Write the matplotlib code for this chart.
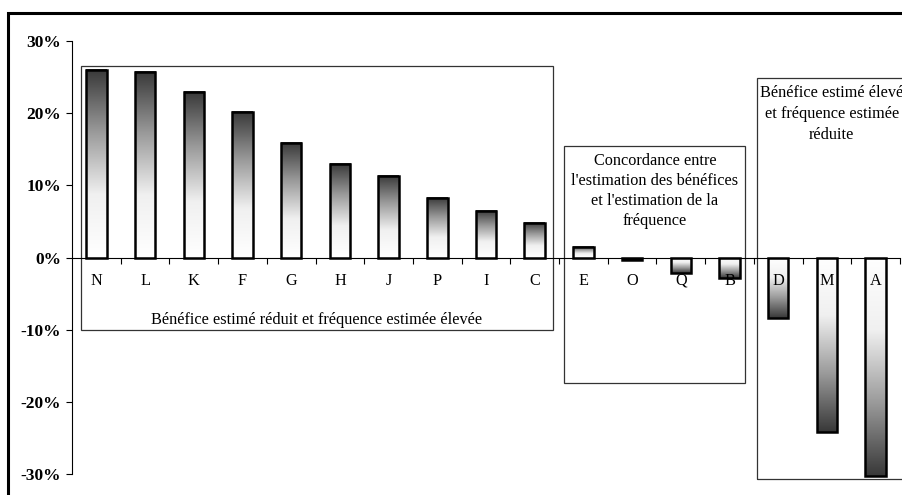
import numpy as np
import matplotlib
matplotlib.use('Agg')
from matplotlib import pyplot as plt
from matplotlib.colors import LinearSegmentedColormap
from matplotlib.patches import Rectangle
from matplotlib.ticker import FuncFormatter

plt.rcParams['font.family'] = ['Liberation Serif', 'DejaVu Serif']

categories = ['N', 'L', 'K', 'F', 'G', 'H', 'J', 'P', 'I', 'C', 'E', 'O', 'Q', 'B', 'D', 'M', 'A']
values = [26.0, 25.7, 23.0, 20.2, 15.8, 13.0, 11.3, 8.3, 6.5, 4.8, 1.5, -0.3, -2.2, -2.9, -8.4, -24.2, -30.3]
yticks = [-30, -20, -10, 0, 10, 20, 30]

box1_text = "Bénéfice estimé réduit et fréquence estimée élevée"
box2_text = "Concordance entre\nl'estimation des bénéfices\net l'estimation de la\nfréquence"
box3_text = "Bénéfice estimé élevé\net fréquence estimée\nréduite"

fig = plt.figure(figsize=(9.03, 4.95), dpi=100)
ax = fig.add_axes([72 / 903, 21 / 495, 828 / 903, 433 / 495])

cmap = LinearSegmentedColormap.from_list('grad', ['#ffffff', '#f0f0f0', '#9a9a9a', '#383838'])
grad = np.linspace(0, 1, 256).reshape(-1, 1)
w = 0.42
for i, v in enumerate(values):
    clip = v > -30
    ax.imshow(grad, extent=(i - w / 2, i + w / 2, 0, v), origin='lower', cmap=cmap,
              aspect='auto', zorder=1, clip_on=clip, interpolation='bilinear')
    ax.add_patch(Rectangle((i - w / 2, 0), w, v, fill=False, ec='black', lw=1.8,
                           zorder=1.5, clip_on=clip))

ax.set_xlim(-0.5, 16.5)
ax.set_ylim(-30, 30)

# group boxes
ax.add_patch(Rectangle((-0.31, -10.1), 9.69, 36.7, fill=False, ec='#333333', lw=0.9, clip_on=False))
ax.add_patch(Rectangle((9.6, -17.4), 3.72, 32.9, fill=False, ec='#333333', lw=0.9, clip_on=False))
ax.add_patch(Rectangle((13.57, -30.7), 4.5, 55.6, fill=False, ec='#333333', lw=0.9, clip_on=False))
ax.text(4.53, -8.7, box1_text, ha='center', va='center', fontsize=11.7)
ax.text(11.47, 14.5, box2_text, ha='center', va='top', fontsize=11.7, linespacing=1.35)
ax.text(15.1, 23.9, box3_text, ha='center', va='top', fontsize=11.7, linespacing=1.40,
        clip_on=False)

ax.set_xticks(range(len(categories)))
ax.set_xticklabels(categories)
ax.set_xticks(np.arange(0.5, 17, 1), minor=True)
ax.tick_params(axis='x', which='major', length=0, pad=11, labelsize=11.7)
ax.tick_params(axis='x', which='minor', length=4, direction='out', width=0.8)
ax.set_yticks(yticks)
ax.yaxis.set_major_formatter(FuncFormatter(lambda y, p: '%d%%' % y))
ax.tick_params(axis='y', length=4, direction='out', width=0.8, labelsize=12.5, pad=4)
for lab in ax.get_yticklabels():
    lab.set_fontweight('bold')

ax.spines['top'].set_visible(False)
ax.spines['right'].set_visible(False)
ax.spines['bottom'].set_position(('data', 0))
ax.spines['bottom'].set_zorder(3)
ax.spines['left'].set_linewidth(0.8)
ax.spines['bottom'].set_linewidth(0.8)

# outer chart frame
fig.add_artist(Rectangle((8 / 903, -0.5), 2, 0.5 + 1 - 13 / 495, transform=fig.transFigure,
                         fill=False, ec='black', lw=2.2))

fig.savefig('out.png', dpi=100)
